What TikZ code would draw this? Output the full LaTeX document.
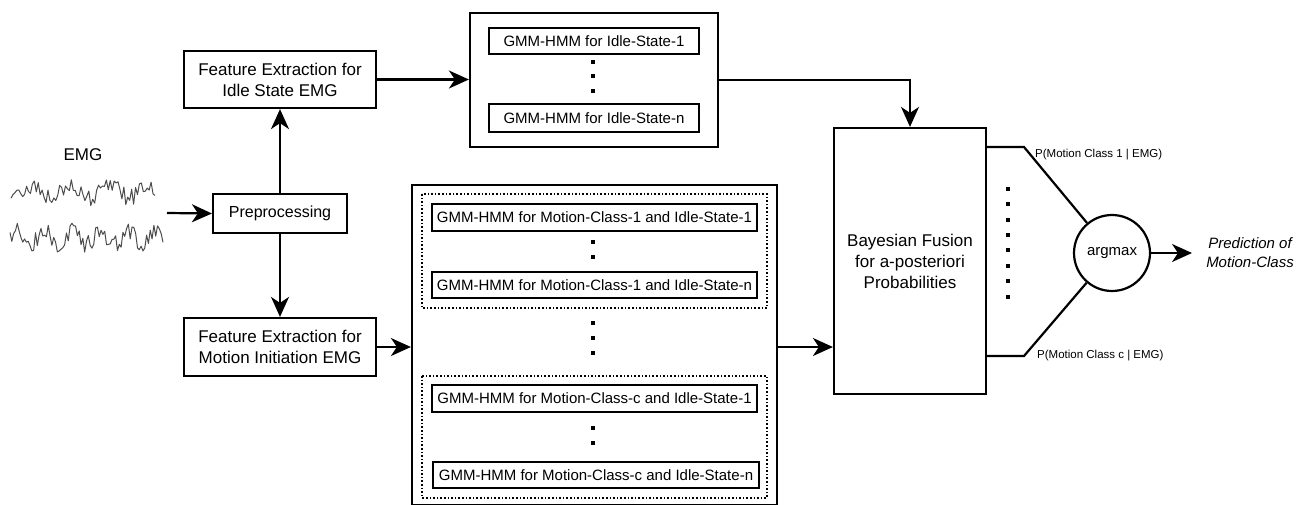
\documentclass[tikz,border=0pt]{standalone}
\usepackage{fontspec}
\setmainfont{Liberation Sans}
\usetikzlibrary{arrows.meta,calc}

\tikzset{
  x=1pt, y=-1pt,
  blockbox/.style={draw, line width=2.2pt, inner sep=0pt, align=center},
  modelbox/.style={draw, line width=2pt, inner sep=0pt, align=center,
    font=\fontsize{15}{18}\selectfont},
  groupbox/.style={draw, dotted, line width=1.6pt},
  conn/.style={line width=2.2pt,
    -{Stealth[length=20pt, width=18pt, inset=6pt]}},
  plainconn/.style={line width=2.2pt},
  sig/.style={line width=1pt, black!70, line join=round},
  probtext/.style={font=\fontsize{11.5}{13}\selectfont, inner sep=0pt, anchor=west},
}
\newcommand{\vdot}[2]{\fill (#1-1.8,#2-1.8) rectangle (#1+1.8,#2+1.8);}

\begin{document}
\begin{tikzpicture}
\useasboundingbox (0,0) rectangle (1309,504);

% input signal
\node (emg) at (83,155) {\fontsize{17}{20}\selectfont EMG};
\pgfmathsetseed{11}
\draw[sig] plot[domain=11:155, samples=75, variable=\x]
  (\x, {192 + 9*rand + 6*sin(\x*9)});
\draw[sig] plot[domain=10:163, samples=85, variable=\x]
  (\x, {238 + 9*rand + 6*sin(\x*13+40)});
\coordinate (sigout) at (167,213);

% feature extraction chain
\node[blockbox, minimum width=134pt, minimum height=39pt,
  font=\fontsize{16}{20}\selectfont] (prep) at (280,213.5) {Preprocessing};
\node[blockbox, minimum width=192pt, minimum height=57pt,
  font=\fontsize{17}{21}\selectfont] (featI) at (280,79.5)
  {Feature Extraction for\\Idle State EMG};
\node[blockbox, minimum width=192pt, minimum height=58pt,
  font=\fontsize{17}{21}\selectfont] (featM) at (280,347)
  {Feature Extraction for\\Motion Initiation EMG};

% idle state models
\node[blockbox, minimum width=248pt, minimum height=134pt] (idle) at (594,80) {};
\node[modelbox, minimum width=210pt, minimum height=26pt] (idle1) at (594,41)
  {GMM-HMM for Idle-State-1};
\node[modelbox, minimum width=210pt, minimum height=28pt] (idlen) at (594,118)
  {GMM-HMM for Idle-State-n};
\vdot{593}{62}\vdot{593}{76}\vdot{593}{91}

% motion class models
\node[blockbox, minimum width=365pt, minimum height=320pt] (motion) at (594.5,345) {};
\draw[groupbox] (422,194) rectangle (767,308);
\draw[groupbox] (422,376) rectangle (767,498);
\node[modelbox, minimum width=325pt, minimum height=27pt] (m11) at (594.5,217.5)
  {GMM-HMM for Motion-Class-1 and Idle-State-1};
\node[modelbox, minimum width=325pt, minimum height=26pt] (m1n) at (594.5,285)
  {GMM-HMM for Motion-Class-1 and Idle-State-n};
\node[modelbox, minimum width=325pt, minimum height=27pt] (mc1) at (594.5,398.5)
  {GMM-HMM for Motion-Class-c and Idle-State-1};
\node[modelbox, minimum width=326pt, minimum height=26pt] (mcn) at (596,475)
  {GMM-HMM for Motion-Class-c and Idle-State-n};
\vdot{593}{242}\vdot{593}{257}
\vdot{593}{323}\vdot{593}{338}\vdot{593}{353}
\vdot{593}{428}\vdot{593}{443}

% fusion and decision
\node[blockbox, minimum width=152pt, minimum height=266pt,
  font=\fontsize{17}{21}\selectfont] (bayes) at (910,261)
  {Bayesian Fusion\\for a-posteriori\\Probabilities};
\node[draw, circle, line width=2.2pt, minimum size=76pt, inner sep=0pt,
  font=\fontsize{15}{18}\selectfont] (amax) at (1112,253) {argmax};
\node[align=center, font=\fontsize{15}{19}\selectfont\itshape] (pred) at (1250,252.5)
  {Prediction of\\Motion-Class};
\coordinate (predin) at (1192,253);
\foreach \yy in {189,204,220,235,250,266,281,297} {\vdot{1008}{\yy}}

\coordinate (p1a) at (986,147);
\coordinate (p1b) at (1024,147);
\coordinate (pca) at (986,356);
\coordinate (pcb) at (1024,356);
\node[probtext] (lab1) at (1035,155) {P(Motion Class 1 | EMG)};
\node[probtext] (labc) at (1037,356) {P(Motion Class c | EMG)};

% connectors
\draw[conn] (sigout) -- (prep.west);
\draw[conn] (prep.north) -- (featI.south);
\draw[conn] (prep.south) -- (featM.north);
\draw[conn] (featI.east) -- (featI.east -| idle.west);
\draw[conn] (idle.east) -| (bayes.north);
\draw[conn] (featM.east) -- (featM.east -| motion.west);
\draw[conn] (motion.east |- 0,347) -- (bayes.west |- 0,347);
\draw[plainconn] (p1a) -- (p1b) -- (amax);
\draw[plainconn] (pca) -- (pcb) -- (amax);
\draw[conn] (amax.east) -- (predin);
\end{tikzpicture}
\end{document}
